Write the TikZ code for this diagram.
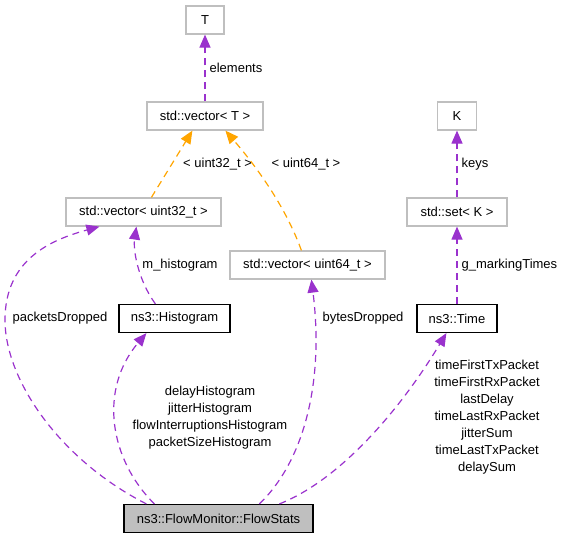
\documentclass[tikz,border=0pt]{standalone}
\usepackage{fontspec}
\setmainfont{Liberation Sans}
\usetikzlibrary{arrows.meta,positioning}
\definecolor{edgepurple}{HTML}{9A32CD}
\definecolor{edgeorange}{HTML}{FFA500}
\definecolor{boxgrey}{HTML}{BFBFBF}
\tikzset{cls/.style={rectangle,draw=boxgrey,line width=1.2pt,minimum height=28pt,inner xsep=2pt,font=\fontsize{13}{17}\selectfont}}
\tikzset{doc/.style={cls,draw=black}}
\tikzset{cur/.style={doc,fill=boxgrey}}
\tikzset{usage/.style={edgepurple,dash pattern=on 7pt off 5pt,line width=1.2pt}}
\tikzset{tmpl/.style={usage,edgeorange}}
\tikzset{lbl/.style={font=\fontsize{13}{17}\selectfont,text=black,inner sep=0pt,align=center}}
\tikzset{>={Triangle[length=13pt,width=11pt]}}

\begin{document}
\begin{tikzpicture}[x=1pt,y=-1pt]
        \useasboundingbox (0,0) rectangle (564,539);

        \node[cls,minimum width=38pt] (T) at (205,20) {T};
        \node[cls,minimum width=116pt] (vT) at (205,116) {std::vector< T >};
        \node[cls,minimum width=155pt] (v32) at (143.5,212) {std::vector< uint32\_t >};
        \node[cls,minimum width=155pt] (v64) at (307.5,265) {std::vector< uint64\_t >};
        \node[cls,minimum width=39pt] (K) at (457,116) {K};
        \node[cls,minimum width=100pt] (setK) at (457,212) {std::set< K >};
        \node[doc,minimum width=80pt] (Time) at (457,318.5) {ns3::Time};
        \node[doc,minimum width=111pt] (Hist) at (174.5,318.5) {ns3::Histogram};
        \node[cur,minimum width=189pt] (FS) at (218.5,518.5) {ns3::FlowMonitor::FlowStats};

        \draw[usage,->] (vT) -- (T) node[midway,right,lbl,xshift=4pt] {elements};
        \draw[usage,->] (setK) -- (K) node[midway,right,lbl,xshift=4pt] {keys};
        \draw[usage,->] (Time) -- (setK) node[midway,right,lbl,xshift=4pt] {g\_markingTimes};

        \draw[tmpl,->] ([xshift=86pt]v32.north west) -- ([xshift=46pt]vT.south west);
        \node[lbl,anchor=west] (l32) at (183,164) {< uint32\_t >};
        \draw[tmpl,->] ([xshift=72pt]v64.north west) .. controls (285,205) and (255,165) .. ([xshift=79pt]vT.south west);
        \node[lbl] (l64) at (306,164) {< uint64\_t >};

        \draw[usage,->] ([xshift=37pt]Hist.north west) .. controls (138,280) and (133,250) .. ([xshift=71pt]v32.south west);
        \node[lbl] (lmh) at (180,265) {m\_histogram};

        \draw[usage,->] ([xshift=23pt]FS.north west) .. controls (60,460) and (5,380) .. (5,320)
            .. controls (5,260) and (50,240) .. ([xshift=34pt]v32.south west);
        \node[lbl] (lpd) at (60,318) {packetsDropped};

        \draw[usage,->] ([xshift=31pt]FS.north west) .. controls (110,460) and (98,390) .. ([xshift=28pt]Hist.south west);
        \node[lbl] (lhist) at (210,417.5) {delayHistogram\\jitterHistogram\\flowInterruptionsHistogram\\packetSizeHistogram};

        \draw[usage,->] ([xshift=136pt]FS.north west) .. controls (305,460) and (324,380) .. ([xshift=82pt]v64.south west);
        \node[lbl] (lbd) at (363,318) {bytesDropped};

        \draw[usage,->] ([xshift=156pt]FS.north west) .. controls (340,480) and (400,410) .. ([xshift=30pt]Time.south west);
        \node[lbl] (ltime) at (487,417.5) {timeFirstTxPacket\\timeFirstRxPacket\\lastDelay\\timeLastRxPacket\\jitterSum\\timeLastTxPacket\\delaySum};
    \end{tikzpicture}
\end{document}
